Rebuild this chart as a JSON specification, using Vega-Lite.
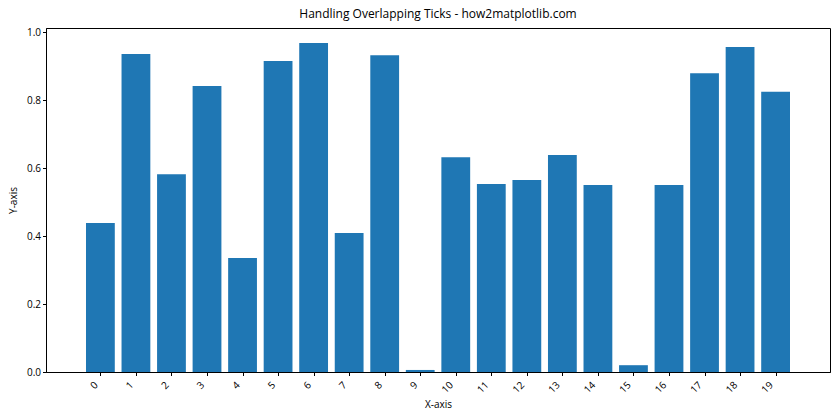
{
  "$schema": "https://vega.github.io/schema/vega-lite/v6.json",
  "autosize": "none",
  "width": 784,
  "height": 344,
  "padding": {"left": 46, "top": 28, "right": 10, "bottom": 48},
  "background": "white",
  "config": {
    "font": "Open Sans",
    "view": {"stroke": "#000000", "strokeWidth": 1},
    "axis": {
      "domainColor": "#000000",
      "tickColor": "#000000",
      "tickSize": 3.5,
      "labelColor": "#000000",
      "labelFont": "Open Sans",
      "labelFontSize": 10,
      "titleFont": "Open Sans",
      "titleFontSize": 10,
      "titleFontWeight": "normal",
      "titleColor": "#000000",
      "grid": false
    }
  },
  "title": {
    "text": "Handling Overlapping Ticks - how2matplotlib.com",
    "font": "Open Sans",
    "fontSize": 12,
    "fontWeight": "normal",
    "color": "#000000",
    "offset": 6
  },
  "data": {
    "values": [
      {"x": 0, "y": 0.438},
      {"x": 1, "y": 0.935},
      {"x": 2, "y": 0.582},
      {"x": 3, "y": 0.841},
      {"x": 4, "y": 0.335},
      {"x": 5, "y": 0.915},
      {"x": 6, "y": 0.968},
      {"x": 7, "y": 0.409},
      {"x": 8, "y": 0.932},
      {"x": 9, "y": 0.006},
      {"x": 10, "y": 0.632},
      {"x": 11, "y": 0.553},
      {"x": 12, "y": 0.565},
      {"x": 13, "y": 0.638},
      {"x": 14, "y": 0.55},
      {"x": 15, "y": 0.02},
      {"x": 16, "y": 0.55},
      {"x": 17, "y": 0.879},
      {"x": 18, "y": 0.956},
      {"x": 19, "y": 0.824}
    ]
  },
  "mark": {"type": "bar", "size": 28.8, "color": "#1f77b4"},
  "encoding": {
    "x": {
      "field": "x",
      "type": "quantitative",
      "scale": {"domain": [-1.39, 20.39], "nice": false, "zero": false},
      "axis": {
        "title": "X-axis",
        "values": [0,1,2,3,4,5,6,7,8,9,10,11,12,13,14,15,16,17,18,19],
        "labelAngle": -45,
        "labelAlign": "right",
        "labelBaseline": "bottom",
        "labelPadding": 11,
        "labelOffset": -1,
        "titlePadding": 5
      }
    },
    "y": {
      "field": "y",
      "type": "quantitative",
      "scale": {"domain": [0, 1.0118], "nice": false},
      "axis": {
        "title": "Y-axis",
        "values": [0, 0.2, 0.4, 0.6, 0.8, 1.0],
        "format": ".1f",
        "titlePadding": 8
      }
    }
  }
}
